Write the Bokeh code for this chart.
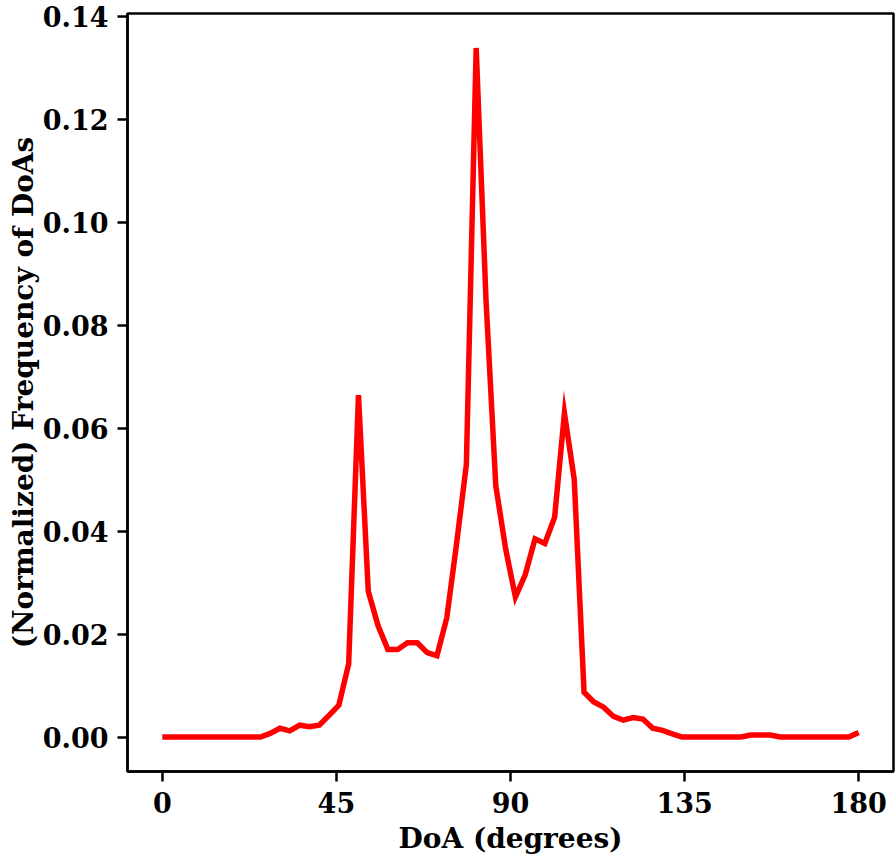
import numpy as np
from bokeh.plotting import figure
from bokeh.models import Range1d, FixedTicker, NumeralTickFormatter
from bokeh.embed import file_html
from bokeh.resources import INLINE

# DoA bins (degrees) and normalized frequencies
doa = np.linspace(0, 180, 72)
freq = [
    0.0, 0.0, 0.0, 0.0, 0.0, 0.0, 0.0, 0.0, 0.0, 0.0, 0.0,
    0.0007, 0.0017, 0.0012, 0.0023, 0.0020, 0.0023, 0.0042, 0.0062, 0.0142,
    0.0664, 0.0283, 0.0216, 0.0170, 0.0170, 0.0183, 0.0183, 0.0164, 0.0158,
    0.0231, 0.0375, 0.0529, 0.1338, 0.0850, 0.0488, 0.0366, 0.0272, 0.0315,
    0.0385, 0.0376, 0.0427, 0.0629, 0.0500, 0.0087, 0.0068, 0.0058, 0.0040,
    0.0033, 0.0038, 0.0035, 0.0017, 0.0013, 0.0006,
    0.0, 0.0, 0.0, 0.0, 0.0, 0.0, 0.0,
    0.0004, 0.0004, 0.0004,
    0.0, 0.0, 0.0, 0.0, 0.0, 0.0, 0.0, 0.0,
    0.0009,
]
x_ticks = [0, 45, 90, 135, 180]
y_ticks = [0.00, 0.02, 0.04, 0.06, 0.08, 0.10, 0.12, 0.14]

FONT = "DejaVu Serif"
ymax = max(freq)
pad = 0.05 * ymax

p = figure(width=896, height=859, output_backend="svg", toolbar_location=None,
           x_range=Range1d(-9, 189), y_range=Range1d(-pad, ymax + pad),
           min_border_left=127, min_border_right=3, min_border_top=13,
           min_border_bottom=88)

p.line(doa, freq, line_color="#ff0000", line_width=5.5, line_join="miter")

p.grid.visible = False
p.outline_line_color = "black"
p.outline_line_width = 2.5
p.outline_line_alpha = 1.0

p.xaxis.ticker = FixedTicker(ticks=x_ticks)
p.yaxis.ticker = FixedTicker(ticks=y_ticks)
p.yaxis.formatter = NumeralTickFormatter(format="0.00")
p.xaxis.axis_label = "DoA (degrees)"
p.yaxis.axis_label = "(Normalized) Frequency of DoAs"

for ax in (p.xaxis, p.yaxis):
    ax.axis_line_width = 2.5
    ax.axis_line_color = "black"
    ax.major_tick_line_width = 2.5
    ax.major_tick_out = 10
    ax.major_tick_in = 0
    ax.minor_tick_out = 0
    ax.minor_tick_in = 0
    ax.major_label_text_font = FONT
    ax.major_label_text_font_style = "bold"
    ax.major_label_text_font_size = "27px"
    ax.major_label_text_color = "black"
    ax.axis_label_text_font = FONT
    ax.axis_label_text_font_style = "bold"
    ax.axis_label_text_font_size = "28px"
    ax.axis_label_text_color = "black"

p.xaxis.major_label_standoff = 10
p.xaxis.axis_label_standoff = 6
p.yaxis.major_label_standoff = 9
p.yaxis.axis_label_standoff = 0

open("out.html", "w").write(file_html(p, INLINE))
